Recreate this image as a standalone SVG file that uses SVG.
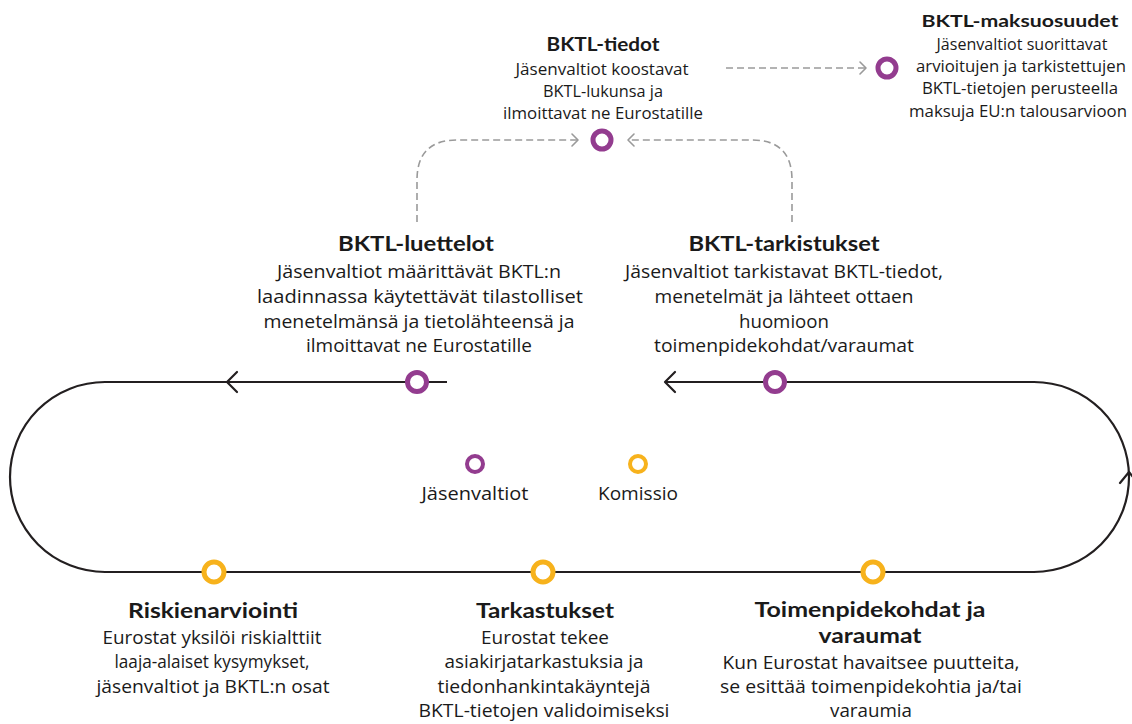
<svg xmlns="http://www.w3.org/2000/svg" width="1132" height="724" viewBox="0 0 1132 724">
  <style>
    text { font-family: "Open Sans", "Noto Sans", "Liberation Sans", sans-serif; fill: #1a1a1a; text-anchor: middle; }
    .t { font-family: Lato, "Open Sans", "Liberation Sans", sans-serif; font-weight: 700; }
    .top { font-size: 16px; }
    .topT { font-size: 18px; }
    .pay { font-size: 15.5px; }
    .payT { font-size: 17px; }
    .mid { font-size: 19px; }
    .midT { font-size: 21px; }
    .loop { fill: none; stroke: #231f20; stroke-width: 2.2; }
    .chev { fill: none; stroke: #231f20; stroke-width: 2.2; stroke-linecap: round; stroke-linejoin: round; }
    .dash { fill: none; stroke: #9a9a9a; stroke-width: 1.6; stroke-dasharray: 7 4; }
    .dchev { fill: none; stroke: #9a9a9a; stroke-width: 1.6; stroke-linecap: round; stroke-linejoin: round; }
    .ms { fill: #fff; stroke: #933c8f; stroke-width: 5; }
    .eu { fill: #fff; stroke: #f7b21c; stroke-width: 5; }
    .legP { fill: #fff; stroke: #933c8f; stroke-width: 4; }
    .legC { fill: #fff; stroke: #f7b21c; stroke-width: 4; }
  </style>

  <!-- cycle track and its direction marks -->
  <g id="connectors">
    <path class="loop" d="M665,382 H1034 A95,95 0 0 1 1034,572 H105 A95,95 0 0 1 105,382 H447"/>
    <path class="chev" d="M237,372 L227,382 L237,392"/>
    <path class="chev" d="M675,372 L665,382 L675,392"/>
    <path class="chev" d="M1120,483 L1129,472 L1138,483"/>
    <!-- reporting flows -->
    <path class="dash" d="M417,222 V180 Q417,140 457,140 H577"/>
    <path class="dchev" d="M572,134 L578,140 L572,146"/>
    <path class="dash" d="M792,222 V180 Q792,140 752,140 H629"/>
    <path class="dchev" d="M634,134 L628,140 L634,146"/>
    <path class="dash" d="M726,68 H865"/>
    <path class="dchev" d="M860,62 L866,68 L860,74"/>
  </g>

  <g id="bktl-tiedot">
    <circle class="ms" cx="602" cy="140" r="9"/>
    <text class="t topT" x="603" y="51" textLength="113" lengthAdjust="spacingAndGlyphs">BKTL-tiedot</text>
    <text class="top" x="602" y="75" textLength="173" lengthAdjust="spacingAndGlyphs">Jäsenvaltiot koostavat</text>
    <text class="top" x="603" y="97" textLength="120" lengthAdjust="spacingAndGlyphs">BKTL-lukunsa ja</text>
    <text class="top" x="603" y="119" textLength="200" lengthAdjust="spacingAndGlyphs">ilmoittavat ne Eurostatille</text>
  </g>

  <g id="bktl-maksuosuudet">
    <circle class="ms" cx="887" cy="68" r="9"/>
    <text class="t payT" x="1020" y="27" textLength="197" lengthAdjust="spacingAndGlyphs">BKTL-maksuosuudet</text>
    <text class="pay" x="1022" y="50" textLength="171" lengthAdjust="spacingAndGlyphs">Jäsenvaltiot suorittavat</text>
    <text class="pay" x="1021" y="72" textLength="210" lengthAdjust="spacingAndGlyphs">arvioitujen ja tarkistettujen</text>
    <text class="pay" x="1020" y="94" textLength="196" lengthAdjust="spacingAndGlyphs">BKTL-tietojen perusteella</text>
    <text class="pay" x="1018" y="117" textLength="218" lengthAdjust="spacingAndGlyphs">maksuja EU:n talousarvioon</text>
  </g>

  <g id="bktl-luettelot">
    <circle class="ms" cx="417" cy="382" r="9.5"/>
    <text class="t midT" x="416" y="251" textLength="156" lengthAdjust="spacingAndGlyphs">BKTL-luettelot</text>
    <text class="mid" x="419" y="278" textLength="284" lengthAdjust="spacingAndGlyphs">Jäsenvaltiot määrittävät BKTL:n</text>
    <text class="mid" x="420" y="303" textLength="326" lengthAdjust="spacingAndGlyphs">laadinnassa käytettävät tilastolliset</text>
    <text class="mid" x="419" y="328" textLength="311" lengthAdjust="spacingAndGlyphs">menetelmänsä ja tietolähteensä ja</text>
    <text class="mid" x="419" y="352" textLength="226" lengthAdjust="spacingAndGlyphs">ilmoittavat ne Eurostatille</text>
  </g>

  <g id="bktl-tarkistukset">
    <circle class="ms" cx="775" cy="382" r="9.5"/>
    <text class="t midT" x="784" y="251" textLength="191" lengthAdjust="spacingAndGlyphs">BKTL-tarkistukset</text>
    <text class="mid" x="784" y="278" textLength="318" lengthAdjust="spacingAndGlyphs">Jäsenvaltiot tarkistavat BKTL-tiedot,</text>
    <text class="mid" x="784" y="303" textLength="259" lengthAdjust="spacingAndGlyphs">menetelmät ja lähteet ottaen</text>
    <text class="mid" x="784" y="328" textLength="90" lengthAdjust="spacingAndGlyphs">huomioon</text>
    <text class="mid" x="784" y="352" textLength="260" lengthAdjust="spacingAndGlyphs">toimenpidekohdat/varaumat</text>
  </g>

  <g id="legend">
    <circle class="legP" cx="475" cy="464" r="8"/>
    <text class="mid" x="475" y="500" textLength="107" lengthAdjust="spacingAndGlyphs">Jäsenvaltiot</text>
    <circle class="legC" cx="638" cy="464" r="8"/>
    <text class="mid" x="638" y="500" textLength="80" lengthAdjust="spacingAndGlyphs">Komissio</text>
  </g>

  <g id="riskienarviointi">
    <circle class="eu" cx="214" cy="572" r="10"/>
    <text class="t midT" x="213" y="618" textLength="170" lengthAdjust="spacingAndGlyphs">Riskienarviointi</text>
    <text class="mid" x="212" y="644" textLength="219" lengthAdjust="spacingAndGlyphs">Eurostat yksilöi riskialttiit</text>
    <text class="mid" x="212" y="668" textLength="195" lengthAdjust="spacingAndGlyphs">laaja-alaiset kysymykset,</text>
    <text class="mid" x="213" y="693" textLength="233" lengthAdjust="spacingAndGlyphs">jäsenvaltiot ja BKTL:n osat</text>
  </g>

  <g id="tarkastukset">
    <circle class="eu" cx="543" cy="572" r="10"/>
    <text class="t midT" x="545" y="618" textLength="138" lengthAdjust="spacingAndGlyphs">Tarkastukset</text>
    <text class="mid" x="545" y="644" textLength="128" lengthAdjust="spacingAndGlyphs">Eurostat tekee</text>
    <text class="mid" x="544" y="668" textLength="199" lengthAdjust="spacingAndGlyphs">asiakirjatarkastuksia ja</text>
    <text class="mid" x="544" y="693" textLength="213" lengthAdjust="spacingAndGlyphs">tiedonhankintakäyntejä</text>
    <text class="mid" x="544" y="717" textLength="251" lengthAdjust="spacingAndGlyphs">BKTL-tietojen validoimiseksi</text>
  </g>

  <g id="toimenpidekohdat">
    <circle class="eu" cx="873" cy="572" r="10"/>
    <text class="t midT" x="870" y="617" textLength="231" lengthAdjust="spacingAndGlyphs">Toimenpidekohdat ja</text>
    <text class="t midT" x="870" y="643" textLength="103" lengthAdjust="spacingAndGlyphs">varaumat</text>
    <text class="mid" x="871" y="669" textLength="297" lengthAdjust="spacingAndGlyphs">Kun Eurostat havaitsee puutteita,</text>
    <text class="mid" x="871" y="693" textLength="302" lengthAdjust="spacingAndGlyphs">se esittää toimenpidekohtia ja/tai</text>
    <text class="mid" x="871" y="717" textLength="82" lengthAdjust="spacingAndGlyphs">varaumia</text>
  </g>
</svg>
